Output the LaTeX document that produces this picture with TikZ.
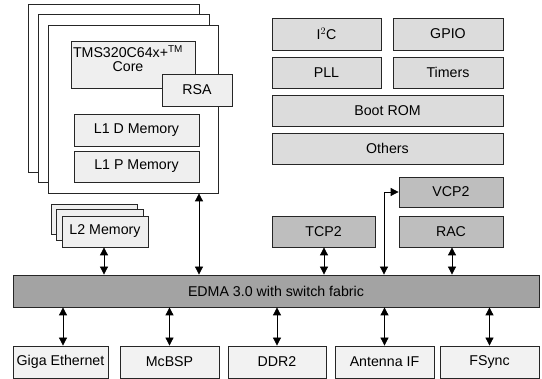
\documentclass[tikz,border=0pt]{standalone}
\usepackage{fontspec}
\setmainfont{Liberation Sans}
\usetikzlibrary{arrows.meta}
\definecolor{lite}{HTML}{EFEFEF}
\definecolor{mid}{HTML}{DCDCDC}
\definecolor{dark}{HTML}{BEBEBE}
\definecolor{edma}{HTML}{A3A3A3}
\definecolor{bot}{HTML}{F2F2F2}
\tikzset{
  blk/.style={draw=black!85, line width=0.8pt, inner sep=0pt, align=center, font=\fontsize{14.2}{15.5}\selectfont},
  frm/.style={blk, fill=white},
  conn/.style={line width=0.8pt, {Triangle[length=8pt,width=8pt]}-{Triangle[length=8pt,width=8pt]}}
}
\begin{document}
\begin{tikzpicture}[x=1pt,y=-1pt]
\useasboundingbox (0,0) rectangle (542,379);
% processor frames
\node[frm, minimum width=171pt, minimum height=168pt] (f1) at (113.5,88) {};
\node[frm, minimum width=171pt, minimum height=168pt] (f2) at (123.5,98) {};
\node[frm, minimum width=170pt, minimum height=168pt] (f3) at (133,109) {};
\node[blk, fill=lite, minimum width=124pt, minimum height=47pt, anchor=north] (core) at (133,41) {};
\node[blk, anchor=north, draw=none] (coretxt) at (128,45) {TMS320C64x+$^{\mathrm{TM}}$\\[-1pt]Core};
\node[blk, fill=lite, minimum width=70pt, minimum height=32pt] (rsa) at (197,90) {RSA};
\node[blk, fill=lite, minimum width=125pt, minimum height=32pt] (l1d) at (136.5,130) {L1 D Memory};
\node[blk, fill=lite, minimum width=125pt, minimum height=31pt] (l1p) at (136.5,166.5) {L1 P Memory};
% L2 stack
\node[blk, fill=lite, minimum width=86pt, minimum height=30pt] (l2a) at (94,219) {};
\node[blk, fill=lite, minimum width=87pt, minimum height=31pt] (l2b) at (99.5,224.5) {};
\node[blk, fill=lite, minimum width=86pt, minimum height=31pt] (l2c) at (105,231.5) {L2 Memory};
% peripherals
\node[blk, fill=mid, minimum width=109pt, minimum height=32pt] (i2c) at (326.5,34) {I$^{2}$C};
\node[blk, fill=mid, minimum width=110pt, minimum height=32pt] (gpio) at (448,34) {GPIO};
\node[blk, fill=mid, minimum width=109pt, minimum height=31pt] (pll) at (326.5,72.5) {PLL};
\node[blk, fill=mid, minimum width=110pt, minimum height=31pt] (tim) at (448,72.5) {Timers};
\node[blk, fill=mid, minimum width=231pt, minimum height=31pt] (boot) at (387.5,110.5) {Boot ROM};
\node[blk, fill=mid, minimum width=231pt, minimum height=31pt] (oth) at (387.5,148.5) {Others};
\node[blk, fill=dark, minimum width=104pt, minimum height=30pt] (vcp) at (451,192) {VCP2};
\node[blk, fill=dark, minimum width=103pt, minimum height=31pt] (tcp) at (323.5,231.5) {TCP2};
\node[blk, fill=dark, minimum width=104pt, minimum height=31pt] (rac) at (451,231.5) {RAC};
% EDMA
\node[blk, fill=edma, minimum width=526pt, minimum height=32pt] (edma) at (276,291) {EDMA 3.0 with switch fabric};
% bottom row
\node[blk, fill=bot, minimum width=95pt, minimum height=32pt] (giga) at (60.5,362) {Giga Ethernet};
\node[blk, fill=bot, minimum width=99pt, minimum height=32pt] (mcbsp) at (169.5,362) {McBSP};
\node[blk, fill=bot, minimum width=98pt, minimum height=32pt] (ddr) at (277,362) {DDR2};
\node[blk, fill=bot, minimum width=99pt, minimum height=32pt] (ant) at (384.5,362) {Antenna IF};
\node[blk, fill=bot, minimum width=99pt, minimum height=32pt] (fs) at (489.5,362) {FSync};
% connectors
\coordinate (cx) at (199,0);
\coordinate (vx) at (384,0);
\coordinate (gx) at (63,0);
\draw[conn] (l2c.south -| 104,0) -- (edma.north -| 104,0);
\draw[conn] (f3.south -| cx) -- (edma.north -| cx);
\draw[conn] (tcp.south -| 324,0) -- (edma.north -| 324,0);
\draw[conn] (rac.south -| 452,0) -- (edma.north -| 452,0);
\draw[conn] (vcp.west) -- (vcp.west -| vx) -- (edma.north -| vx);
\draw[conn] (edma.south -| gx) -- (giga.north -| gx);
\draw[conn] (edma.south -| mcbsp) -- (mcbsp.north);
\draw[conn] (edma.south -| ddr) -- (ddr.north);
\draw[conn] (edma.south -| ant) -- (ant.north);
\draw[conn] (edma.south -| fs) -- (fs.north);
\end{tikzpicture}
\end{document}
